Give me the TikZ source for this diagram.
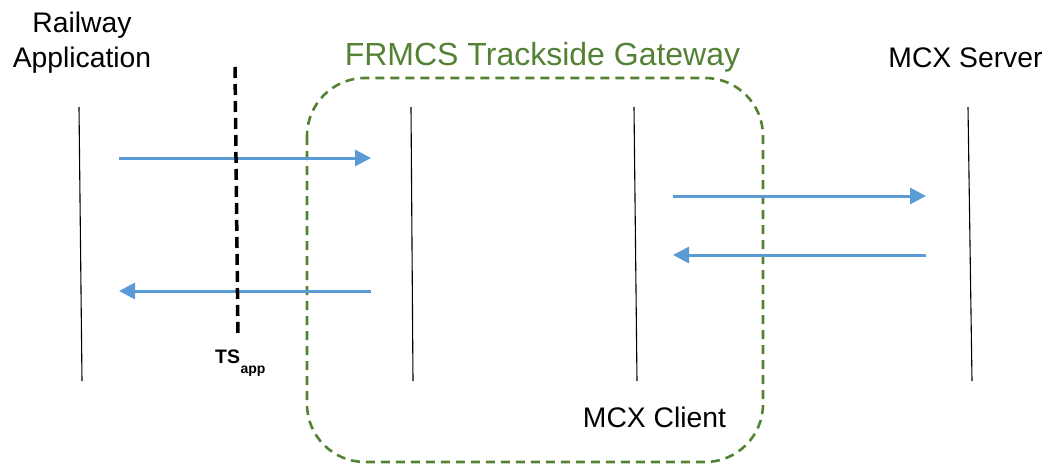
\documentclass[tikz,border=0pt]{standalone}
\usepackage{fontspec}
\setmainfont{Liberation Sans}
\usetikzlibrary{arrows.meta}
\definecolor{msgblue}{HTML}{5B9BD5}
\definecolor{gwgreen}{HTML}{548235}
\tikzset{
  lifeline/.style={line width=1.1pt, black},
  msg/.style={line width=3pt, msgblue, -{Triangle[length=16pt,width=16pt]}},
  boundary/.style={line width=3.5pt, black, dash pattern=on 11pt off 6pt},
  gwbox/.style={line width=2.6pt, gwgreen, dash pattern=on 9pt off 6pt, rounded corners=58pt},
  lbl/.style={font=\fontsize{28.3}{34}\selectfont, anchor=base, inner sep=0pt},
}
\begin{document}
\begin{tikzpicture}[x=1pt,y=-1pt]
\useasboundingbox (0,0) rectangle (1058,466);
% gateway box
\draw[gwbox] (307,78) rectangle (763,462);
% titles
\node[lbl] (railway) at (82,32) {Railway};
\node[lbl] (application) at (82,67) {Application};
\node[lbl, text=gwgreen, font=\fontsize{32}{38}\selectfont] (gateway) at (542.5,65) {FRMCS Trackside Gateway};
\node[lbl] (server) at (965.5,67) {MCX Server};
\node[lbl] (client) at (654.5,427) {MCX Client};
% lifelines
\coordinate (l1t) at (79,107); \coordinate (l1b) at (82,381);
\coordinate (l2t) at (411,107); \coordinate (l2b) at (413,381);
\coordinate (l3t) at (634,107); \coordinate (l3b) at (637,381);
\coordinate (l4t) at (968,107); \coordinate (l4b) at (972,381);
\draw[lifeline] (l1t) -- (l1b);
\draw[lifeline] (l2t) -- (l2b);
\draw[lifeline] (l3t) -- (l3b);
\draw[lifeline] (l4t) -- (l4b);
% TS_app reference point
\coordinate (tst) at (235,67); \coordinate (tsb) at (238,338);
\node[font=\bfseries\fontsize{19.5}{23}\selectfont, anchor=base west, inner sep=0pt] (tsapp) at (215,363) {TS\kern0.5pt\raisebox{-10pt}{\fontsize{14}{16}\selectfont app}};
% messages
\coordinate (m1a) at (119,158); \coordinate (m1b) at (371,158);
\coordinate (m2a) at (371,291); \coordinate (m2b) at (119,291);
\coordinate (m3a) at (673,196); \coordinate (m3b) at (926,196);
\coordinate (m4a) at (926,255); \coordinate (m4b) at (673,255);
\draw[msg] (m1a) -- (m1b);
\draw[msg] (m2a) -- (m2b);
\draw[boundary] (tst) -- (tsb);
\draw[msg] (m3a) -- (m3b);
\draw[msg] (m4a) -- (m4b);
\end{tikzpicture}
\end{document}
